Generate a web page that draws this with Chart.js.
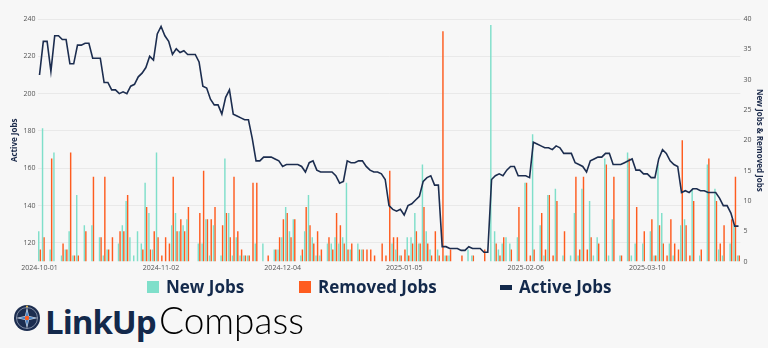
<!DOCTYPE html>
<html><head><meta charset="utf-8">
<script src="https://cdn.jsdelivr.net/npm/chart.js@4/dist/chart.umd.min.js"></script>
<style>
html,body{margin:0;padding:0;background:#f7f7f7;}
#wrap{position:relative;width:768px;height:348px;overflow:hidden;background:#f7f7f7;}
#cv{position:absolute;left:0;top:0;}
#legend{position:absolute;top:276px;left:0;width:768px;height:22px;font-family:'Open Sans',sans-serif;font-weight:700;font-size:17px;color:#13294b;}
.li{position:absolute;top:0;height:22px;line-height:22px;white-space:nowrap;}
.sw{position:absolute;top:5px;left:0;width:12px;height:12px;}
.li span.t{position:absolute;left:19px;top:0;}
#logo{position:absolute;left:13px;top:303px;height:36px;}
#logo .lk{position:absolute;left:32px;top:-4px;font-family:'Open Sans',sans-serif;font-weight:700;font-size:33px;color:#13294b;letter-spacing:-1px;white-space:nowrap;}
#logo .cp{position:absolute;left:146px;top:-6px;font-family:'Lato',sans-serif;font-weight:300;font-size:37px;color:#000;letter-spacing:0px;white-space:nowrap;}
</style></head>
<body>
<div id="wrap">
<canvas id="cv" width="768" height="280"></canvas>
<div id="legend">
  <div class="li" style="left:147px"><div class="sw" style="background:#7fdfca"></div><span class="t">New Jobs</span></div>
  <div class="li" style="left:299px"><div class="sw" style="background:#fe5c1f"></div><span class="t">Removed Jobs</span></div>
  <div class="li" style="left:500px"><div class="sw" style="background:#13294b;height:5px;top:9px"></div><span class="t">Active Jobs</span></div>
</div>
<div id="logo">
  <svg width="28" height="28" viewBox="0 0 28 28" style="position:absolute;left:0;top:1px">
    <circle cx="14" cy="14" r="13" fill="#1c2d4f"/>
    <circle cx="14" cy="14" r="10.5" fill="none" stroke="#7d8aa3" stroke-width="1"/>
    <polygon points="14,3 16,12 25,14 16,16 14,25 12,16 3,14 12,12" fill="#cfd6e2"/>
    <polygon points="14,6 15.5,12.5 22,14 15.5,15.5 14,22 12.5,15.5 6,14 12.5,12.5" fill="#4a86c8"/>
    <circle cx="14" cy="14" r="2.2" fill="#fe5c1f"/>
    <circle cx="14" cy="2.5" r="1" fill="#f2c14e"/>
  </svg>
  <span class="lk">LinkUp</span><span class="cp">Compass</span>
</div>
</div>
<script>
const dates = [
'2024-10-01','2024-10-02','2024-10-03','2024-10-04','2024-10-05','2024-10-06','2024-10-07','2024-10-08','2024-10-09','2024-10-10','2024-10-11','2024-10-12','2024-10-13','2024-10-14','2024-10-15','2024-10-16','2024-10-17','2024-10-18','2024-10-19','2024-10-20','2024-10-21','2024-10-22','2024-10-23','2024-10-24','2024-10-25','2024-10-26','2024-10-27','2024-10-28','2024-10-29','2024-10-30','2024-10-31',
'2024-11-01','2024-11-02','2024-11-03','2024-11-04','2024-11-05','2024-11-06','2024-11-07','2024-11-08','2024-11-09','2024-11-10','2024-11-11','2024-11-12','2024-11-13','2024-11-14','2024-11-15','2024-11-16','2024-11-17','2024-11-18','2024-11-19','2024-11-20','2024-11-21','2024-11-22','2024-11-23','2024-11-24','2024-11-25','2024-11-26','2024-11-27','2024-11-28','2024-11-29','2024-11-30',
'2024-12-01','2024-12-02','2024-12-03','2024-12-04','2024-12-05','2024-12-06','2024-12-07','2024-12-08','2024-12-09','2024-12-10','2024-12-11','2024-12-12','2024-12-13','2024-12-14','2024-12-15','2024-12-16','2024-12-17','2024-12-18','2024-12-19','2024-12-20','2024-12-21','2024-12-22','2024-12-23','2024-12-24','2024-12-25','2024-12-26','2024-12-27','2024-12-28','2024-12-29','2024-12-30','2024-12-31',
'2025-01-01','2025-01-02','2025-01-03','2025-01-04','2025-01-05','2025-01-06','2025-01-07','2025-01-08','2025-01-09','2025-01-10','2025-01-11','2025-01-12','2025-01-13','2025-01-14','2025-01-15','2025-01-16','2025-01-17','2025-01-18','2025-01-19','2025-01-20','2025-01-21','2025-01-22','2025-01-23','2025-01-24','2025-01-25','2025-01-26','2025-01-27','2025-01-28','2025-01-29','2025-01-30','2025-01-31',
'2025-02-01','2025-02-02','2025-02-03','2025-02-04','2025-02-05','2025-02-06','2025-02-07','2025-02-08','2025-02-09','2025-02-10','2025-02-11','2025-02-12','2025-02-13','2025-02-14','2025-02-15','2025-02-16','2025-02-17','2025-02-18','2025-02-19','2025-02-20','2025-02-21','2025-02-22','2025-02-23','2025-02-24','2025-02-25','2025-02-26','2025-02-27','2025-02-28',
'2025-03-01','2025-03-02','2025-03-03','2025-03-04','2025-03-05','2025-03-06','2025-03-07','2025-03-08','2025-03-09','2025-03-10','2025-03-11','2025-03-12','2025-03-13','2025-03-14','2025-03-15','2025-03-16','2025-03-17','2025-03-18','2025-03-19','2025-03-20','2025-03-21','2025-03-22','2025-03-23','2025-03-24','2025-03-25','2025-03-26','2025-03-27','2025-03-28','2025-03-29','2025-03-30','2025-03-31',
'2025-04-01','2025-04-02','2025-04-03'
];
const tickLabels = ['2024-10-01','2024-11-02','2024-12-04','2025-01-05','2025-02-06','2025-03-10'];
const newJobs = [
5,22,0,2,18,0,1,2,5,1,
11,0,6,0,6,0,4,1,2,0,
0,3,6,10,4,1,5,3,13,8,
2,18,0,0,0,6,8,5,6,7,
0,0,3,3,7,1,6,0,1,17,
8,1,4,1,1,1,0,3,0,3,
0,0,2,2,4,9,5,7,0,1,
5,11,4,1,1,0,3,3,4,3,
4,13,2,0,3,2,0,0,0,0,
0,0,0,3,2,1,0,4,4,8,
3,16,5,2,0,2,0,1,1,0,
0,0,0,2,1,0,0,0,0,39,
5,2,3,4,3,0,4,0,13,0,
21,0,6,1,11,0,12,0,1,0,
1,8,1,12,0,10,1,4,0,17,
1,7,0,1,0,18,1,3,0,3,
0,5,1,16,8,0,3,1,0,6,
7,0,12,0,1,0,16,0,12,2,
1,0,3,6,1
];
const removedJobs = [
2,4,0,17,0,0,3,2,18,1,
1,0,5,0,14,0,4,14,2,4,
0,5,5,11,0,0,0,2,9,2,
5,4,1,4,3,14,5,7,5,9,
0,0,8,15,7,7,9,0,6,8,
4,14,5,2,1,1,13,13,0,0,
1,0,2,4,7,8,4,7,0,2,
9,6,3,5,2,0,4,2,8,6,
3,2,3,0,2,2,2,2,1,0,
3,1,15,4,4,1,2,1,3,5,
3,9,3,1,5,1,38,1,2,0,
0,1,0,0,1,0,0,2,0,0,
3,1,4,0,2,0,9,0,13,1,
2,0,8,2,11,1,10,0,5,0,
0,14,2,14,2,4,0,3,0,16,
0,14,0,1,0,17,0,9,0,5,
0,7,1,6,3,1,7,3,2,20,
6,1,10,0,2,0,17,0,10,3,
6,0,7,14,1
];
const activeJobs = [
210,228,228,212,231,231,229,229,216,216,
226,226,227,227,219,219,219,206,206,202,
202,200,201,200,204,205,209,211,214,220,
218,232,236,231,228,221,224,222,223,221,
221,221,217,204,203,197,194,194,189,198,
202,189,188,187,186,186,176,164,164,166,
166,166,165,164,161,162,162,162,162,161,
158,163,164,159,158,158,158,158,156,152,
153,164,163,163,164,164,161,159,158,158,
157,154,140,138,137,138,135,140,141,143,
145,153,155,156,151,151,118,118,117,117,
117,116,116,118,117,117,117,115,115,154,
156,157,156,159,161,161,156,156,156,155,
174,173,172,171,171,170,172,171,168,168,
168,163,162,161,158,164,165,166,166,168,
168,162,162,162,163,164,165,159,159,157,
157,155,155,165,170,168,164,162,161,147,
148,147,149,149,148,148,147,147,147,144,
140,140,136,129,129
];

const tickFont = {family:"'Open Sans', sans-serif", size:7};
const titleFont = {family:"'Open Sans', sans-serif", size:8, weight:'bold'};
new Chart(document.getElementById('cv'), {
  data: {
    labels: dates,
    datasets: [
      {type:'bar', label:'New Jobs', data:newJobs, backgroundColor:'#7fdfca', yAxisID:'y1', order:2, categoryPercentage:0.8, barPercentage:0.95},
      {type:'bar', label:'Removed Jobs', data:removedJobs, backgroundColor:'#fe5c1f', yAxisID:'y1', order:2, categoryPercentage:0.8, barPercentage:0.95},
      {type:'line', label:'Active Jobs', data:activeJobs, borderColor:'#1c2d4f', borderWidth:1.6, pointRadius:0, tension:0, yAxisID:'y', order:1}
    ]
  },
  options: {
    responsive:false, animation:false, devicePixelRatio:1,
    layout:{padding:{top:19,right:2,bottom:6,left:10}},
    plugins:{legend:{display:false}, tooltip:{enabled:false}},
    scales:{
      x:{
        grid:{display:false, drawTicks:false}, border:{display:false},
        ticks:{autoSkip:false, maxRotation:0, minRotation:0, font:tickFont, color:'#555', padding:2,
          callback:function(v,i){ return tickLabels.includes(dates[i]) ? dates[i] : null; }}
      },
      y:{
        position:'left', min:110, max:240,
        ticks:{stepSize:20, includeBounds:false, font:tickFont, color:'#555', padding:2},
        grid:{color:'#e9e9e9', drawTicks:false}, border:{display:false},
        title:{display:true, text:'Active Jobs', font:titleFont, color:'#1b2a4a', padding:{top:0,bottom:2}}
      },
      y1:{
        position:'right', min:0, max:40,
        ticks:{stepSize:5, font:tickFont, color:'#555', padding:3},
        grid:{display:false, drawTicks:false}, border:{display:false},
        title:{display:true, text:'New Jobs & Removed Jobs', font:titleFont, color:'#1b2a4a', padding:{top:2,bottom:0}}
      }
    }
  }
});
</script>
</body></html>
